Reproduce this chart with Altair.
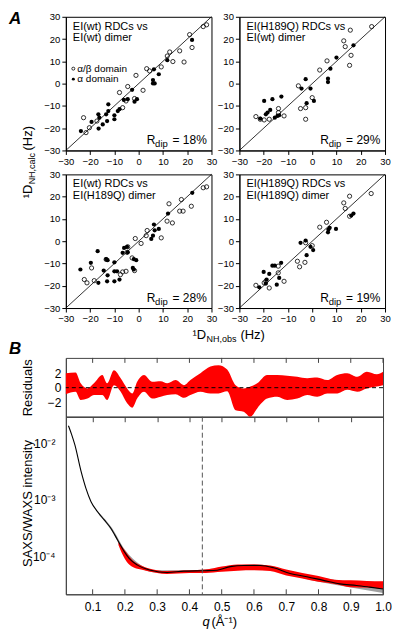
import altair as alt
import pandas as pd

FONT = "Liberation Sans"

# ---------------- Panel A data (1D_NH obs vs calc, Hz) ----------------
tl_ox = [26.6, 28.0, 21.0, 12.8, 16.9, 11.8, 14.1, 18.7, 22.0, 9.3, 3.3, 4.5, -1.1, 1.8, -4.5, -7.9, -1.7, -6.6, -5.2, -22.7, -21.7, -20.3, -17.2]
tl_oy = [25.6, 26.4, 22.0, 14.2, 14.7, 12.4, 9.9, 9.7, 16.2, 7.5, 6.7, 5.7, 3.7, -3.0, -1.3, -4.0, -6.7, -10.8, -7.8, -15.3, -22.0, -19.8, -16.8]
tl_fx = [22.0, 11.8, 6.3, 8.3, 5.9, 5.9, 6.6, -2.7, -4.5, -6.1, -0.7, -1.7, -7.9, -8.6, -10.0, -10.0, -12.5, -12.5, -13.4, -16.6, -16.2, -13.0, -14.8, -19.4, -16.5, -23.8]
tl_fy = [19.6, 10.5, 6.4, 4.2, 1.6, 0.1, 0.1, -2.8, -7.0, -7.3, -7.0, -8.1, -11.5, -12.3, -14.2, -16.0, -9.3, -12.3, -13.8, -13.8, -15.3, -16.8, -18.3, -17.2, -20.2, -21.3]

tr_ox = [24.5, 15.7, 13.0, 13.6, 16.0, 15.4, 6.1, 3.1, -5.7, 0.0, -2.7, -4.8, -2.7, -13.9, -13.9, -11.6, -23.2, -21.4, -19.8, -17.7]
tr_oy = [25.6, 24.0, 19.2, 16.6, 12.7, 8.2, 10.2, 6.1, -1.0, -6.3, -10.8, -11.2, -16.0, -11.2, -13.0, -14.5, -14.8, -16.0, -16.3, -16.0]
tr_fx = [17.0, 10.0, 7.5, 6.5, 6.5, -2.7, -4.4, -0.7, 0.7, -2.3, -19.8, -16.4, -12.7, -17.3, -18.4, -19.1, -21.4, -15.4, -14.3, -13.6]
tr_fy = [17.2, 11.7, 6.7, 2.2, 0.7, 2.0, -2.2, -2.2, -7.8, -8.8, -7.8, -7.0, -5.8, -11.8, -13.0, -13.8, -15.7, -15.3, -14.5, -14.2]

bl_ox = [26.6, 28.0, 21.7, 17.6, 16.9, 18.3, 12.5, 13.9, 11.7, 9.3, 3.1, 3.5, -1.4, 1.0, -4.5, -4.8, -2.7, -1.7, -5.2, -6.6, -7.5, -13.4, -19.4, -18.3, -22.4, -21.3]
bl_oy = [24.0, 24.4, 15.7, 18.7, 13.5, 13.5, 16.8, 8.2, 9.0, 1.5, 2.5, 4.8, 1.2, -1.0, -2.5, -5.0, -7.5, -13.2, -13.5, -13.8, -15.0, -8.2, -12.0, -17.7, -17.2, -18.7]
bl_fx = [22.1, 12.1, 6.3, 8.3, 6.6, 5.9, 5.2, -4.8, -6.0, -4.5, -6.6, -10.0, -2.0, -1.0, -2.4, -2.0, -16.9, -13.4, -12.8, -19.7, -14.4, -10.0, -8.9, -12.8, -13.0, -16.6, -10.0, -7.9, -24.0]
bl_fy = [21.7, 12.4, 7.5, 5.5, 4.9, 2.5, 1.0, -2.5, -3.0, -5.0, -5.2, -9.5, -8.0, -8.5, -12.0, -12.7, -4.5, -8.0, -8.5, -9.7, -13.2, -13.5, -13.5, -15.3, -18.0, -18.7, -18.0, -17.2, -12.7]

br_ox = [24.3, 15.4, 13.0, 13.6, 15.4, 5.9, 3.1, -6.1, -5.2, -3.0, -2.7, 0.0, -14.0, -14.0, -11.6, -23.2, -19.8, -17.7, -19.1]
br_oy = [21.4, 20.2, 17.2, 14.7, 11.2, 8.5, 6.3, -9.0, -11.5, -9.5, -0.7, -2.0, -11.2, -14.2, -18.0, -19.8, -18.7, -21.0, -18.0]
br_fx = [17.0, 16.1, 9.8, 7.2, 6.7, 6.5, -4.8, -2.7, -0.7, 0.4, -2.3, -20.0, -12.8, -16.4, -15.4, -17.7, -18.8, -19.1, -14.6, -13.6, -21.8]
br_fy = [12.4, 11.5, 5.5, 6.0, 5.2, 4.0, -0.7, 0.3, -2.5, -4.0, -6.3, -13.8, -9.7, -11.0, -11.0, -14.7, -17.2, -19.0, -19.5, -16.5, -20.7]

diag = [-30, 30]
a_ticks = [-30, -20, -10, 0, 10, 20, 30]

# ---------------- Panel B data ----------------
q_ticks = [0.1, 0.2, 0.3, 0.4, 0.5, 0.6, 0.7, 0.8, 0.9, 1.0]
res_ticks_y = [-2, 0, 2]
res_zero_line = [0]

# residual ensemble envelope
q_res = [0.017, 0.047, 0.063, 0.084, 0.104, 0.13, 0.145, 0.166, 0.187, 0.207, 0.223, 0.238, 0.259, 0.285, 0.311, 0.331, 0.357, 0.383, 0.403, 0.434, 0.465, 0.49, 0.517, 0.543, 0.568, 0.589, 0.61, 0.641, 0.672, 0.703, 0.734, 0.765, 0.796, 0.827, 0.858, 0.889, 0.92, 0.95, 0.981, 1.0]
res_hi = [2.0, 2.1, 0.6, -0.1, 0.6, 1.75, 0.6, 2.4, 1.3, -0.1, -0.8, 0.8, 1.75, 0.8, 0.9, 0.6, 1.05, 0.35, 1.05, 2.0, 2.9, 3.1, 2.5, 0.35, -0.1, 0.15, 0.6, 1.75, 1.75, 1.65, 1.5, 1.3, 1.4, 1.05, 1.75, 2.0, 1.5, 2.2, 1.85, 2.2]
res_lo = [-0.9, -0.55, -1.7, -1.5, -1.0, -1.0, -1.7, 0.35, -0.55, -2.15, -2.75, -1.5, -0.55, -1.5, -1.25, -1.0, -0.9, -1.4, -1.0, -0.55, -0.8, -0.8, -0.5, -3.1, -3.3, -4.0, -2.85, -1.5, -1.25, -1.7, -1.5, -1.0, -1.25, -0.8, -0.8, -0.3, -0.55, -0.1, 0.15, 0.35]

# experimental SAXS/WAXS curve
q_exp = [0.025, 0.035, 0.045, 0.064, 0.079, 0.095, 0.115, 0.136, 0.157, 0.177, 0.198, 0.213, 0.239, 0.28, 0.331, 0.383, 0.445, 0.486, 0.527, 0.568, 0.62, 0.661, 0.712, 0.764, 0.815, 0.866, 0.918, 0.959, 1.0]
i_exp = [2.09e-2, 1.45e-2, 9.5e-3, 3.24e-3, 1.62e-3, 9.3e-4, 6.2e-4, 4.4e-4, 3.1e-4, 1.95e-4, 1.2e-4, 9.1e-5, 6.9e-5, 5.6e-5, 5.1e-5, 5.4e-5, 5.5e-5, 5.6e-5, 6.5e-5, 6.8e-5, 6.8e-5, 6.2e-5, 4.9e-5, 4.3e-5, 3.7e-5, 3.2e-5, 3.0e-5, 2.8e-5, 2.6e-5]

# experimental error envelope
q_err = [0.12, 0.16, 0.20, 0.25, 0.30, 0.40, 0.50, 0.60, 0.70, 0.80, 0.90, 1.00]
err_hi = [5.9e-4, 3.16e-4, 1.29e-4, 6.9e-5, 5.6e-5, 5.6e-5, 6.2e-5, 7.2e-5, 5.5e-5, 4.2e-5, 3.5e-5, 3.0e-5]
err_lo = [5.4e-4, 2.75e-4, 1.07e-4, 6.0e-5, 5.1e-5, 5.1e-5, 5.6e-5, 6.4e-5, 4.8e-5, 3.5e-5, 2.75e-5, 2.2e-5]

# ensemble of calculated curves (envelope)
q_fit = [0.18, 0.20, 0.22, 0.25, 0.30, 0.33, 0.40, 0.45, 0.50, 0.55, 0.60, 0.65, 0.70, 0.75, 0.80, 0.85, 0.90, 0.95, 1.00]
fit_hi = [1.78e-4, 1.26e-4, 8.9e-5, 6.8e-5, 5.6e-5, 5.4e-5, 5.6e-5, 5.75e-5, 6.5e-5, 7.1e-5, 7.1e-5, 6.8e-5, 5.75e-5, 5.0e-5, 4.4e-5, 3.8e-5, 3.7e-5, 3.6e-5, 3.55e-5]
fit_lo = [1.58e-4, 8.9e-5, 6.6e-5, 5.75e-5, 5.0e-5, 4.8e-5, 5.0e-5, 5.0e-5, 5.25e-5, 5.5e-5, 5.6e-5, 5.4e-5, 4.5e-5, 4.0e-5, 3.5e-5, 3.2e-5, 2.8e-5, 2.75e-5, 2.6e-5]

q_cut = [0.44]

ONE = pd.DataFrame({"k": [0]})


def txt(s, x, y, size=11, align="left", baseline="alphabetic", angle=None, **kw):
    mk = dict(text=s, align=align, baseline=baseline, fontSize=size, font=FONT, color="black")
    if angle is not None:
        mk["angle"] = angle
    mk.update(kw)
    return alt.Chart(ONE).mark_text(**mk).encode(x=alt.value(x), y=alt.value(y))


def a_axis():
    return alt.Axis(values=a_ticks, title=None, grid=False, tickSize=4, labelFontSize=9.5,
                    labelPadding=2, labelFont=FONT, labelColor="black", tickColor="black",
                    domainColor="black", labelFlush=False, labelOverlap=False)


def panel(ox, oy, fx, fy, t1, t2, rdip, extra=()):
    sx = alt.Scale(domain=[-30, 30], nice=False)
    sy = alt.Scale(domain=[-30, 30], nice=False)
    line = alt.Chart(pd.DataFrame({"x": diag, "y": diag})).mark_line(
        color="black", strokeWidth=0.8).encode(
        x=alt.X("x:Q", scale=sx, axis=a_axis()),
        y=alt.Y("y:Q", scale=sy, axis=a_axis()))
    opn = alt.Chart(pd.DataFrame({"x": ox, "y": oy})).mark_point(
        shape="circle", filled=False, color="black", size=18, strokeWidth=0.8, opacity=1).encode(
        x=alt.X("x:Q", axis=a_axis()), y=alt.Y("y:Q", axis=a_axis()))
    fil = alt.Chart(pd.DataFrame({"x": fx, "y": fy})).mark_circle(
        color="black", size=18, opacity=1).encode(
        x=alt.X("x:Q", axis=a_axis()), y=alt.Y("y:Q", axis=a_axis()))
    layers = [line, opn, fil,
              txt(t1, 7, 13, 11), txt(t2, 7, 24.5, 11),
              txt("R", 81, 128, 12), txt("dip", 89.5, 131, 9.5), txt("= %d%%" % rdip, 107, 128, 12)]
    layers += list(extra)
    return alt.layer(*layers).properties(width=146, height=134)


tl_extra = [
    txt("A", -57, -6, 17, baseline="top", fontWeight="bold", fontStyle="italic"),
    alt.Chart(ONE).mark_point(shape="circle", filled=False, color="black", size=9, strokeWidth=0.8, opacity=1).encode(
        x=alt.value(7.5), y=alt.value(52)),
    txt("α/β domain", 11.5, 52, 10, baseline="middle"),
    alt.Chart(ONE).mark_circle(color="black", size=9, opacity=1).encode(x=alt.value(7.5), y=alt.value(62.5)),
    txt("α domain", 11.5, 62.5, 10, baseline="middle"),
    txt("¹D", -34, 182, 13, angle=270),
    txt("NH,calc", -31, 168, 9, angle=270),
    txt("(Hz)", -34, 134, 13, angle=270),
]
bl_extra = [
    txt("¹D", 127, 165, 13),
    txt("NH,obs", 141, 168, 9),
    txt("(Hz)", 175, 165, 13),
]

tl = panel(tl_ox, tl_oy, tl_fx, tl_fy, "EI(wt) RDCs vs", "EI(wt) dimer", 18, tl_extra)
tr = panel(tr_ox, tr_oy, tr_fx, tr_fy, "EI(H189Q) RDCs vs", "EI(wt) dimer", 29)
bl = panel(bl_ox, bl_oy, bl_fx, bl_fy, "EI(wt) RDCs vs", "EI(H189Q) dimer", 28, bl_extra)
br = panel(br_ox, br_oy, br_fx, br_fy, "EI(H189Q) RDCs vs", "EI(H189Q) dimer", 19)

# ---------------- Panel B ----------------
BW, RH, SH = 318, 59, 178
qscale = alt.Scale(domain=[0.017, 1.0], nice=False)
rscale = alt.Scale(domain=[-4.0, 4.1], nice=False)
iscale = alt.Scale(type="log", domain=[2.09e-5, 3.02e-2], nice=False)
GRAYB = "#444444"

res_xaxis = alt.Axis(values=q_ticks, labels=False, title=None, grid=False,
                     tickSize=5, tickColor=GRAYB, domainColor=GRAYB)
res_yaxis = alt.Axis(values=res_ticks_y, title=None, grid=False, tickSize=0,
                     labelPadding=5, labelFontSize=12, labelFont=FONT,
                     labelColor="black", domainColor=GRAYB, labelOverlap=False)
res_band = alt.Chart(pd.DataFrame({"q": q_res, "lo": res_lo, "hi": res_hi})).mark_area(
    color="#ff0000", interpolate="monotone", opacity=1).encode(
    x=alt.X("q:Q", scale=qscale, axis=res_xaxis),
    y=alt.Y("lo:Q", scale=rscale, axis=res_yaxis),
    y2="hi:Q")
res_zero = alt.Chart(pd.DataFrame({"lo": res_zero_line})).mark_rule(
    color="black", strokeDash=[4, 3], strokeWidth=1).encode(y=alt.Y("lo:Q", axis=res_yaxis))
res_ticks = alt.Chart(pd.DataFrame({"q": q_ticks})).mark_rule(color=GRAYB, strokeWidth=1).encode(
    x=alt.X("q:Q", axis=res_xaxis), y=alt.value(0), y2=alt.value(5))
res = alt.layer(
    res_band, res_zero, res_ticks,
    txt("B", -57, -17, 17, baseline="top", fontWeight="bold", fontStyle="italic"),
    txt("Residuals", -34, 30, 13, align="center", angle=270),
).properties(width=BW, height=RH, view=alt.ViewBackground(stroke=GRAYB))

q_axis = alt.Axis(values=q_ticks, format=".1f", title=None, grid=False,
                  tickSize=0, labelPadding=7, labelFontSize=12, labelFont=FONT,
                  labelColor="black", domainColor=GRAYB, labelFlush=False, labelOverlap=False)
i_axis = alt.Axis(values=[1e-4, 1e-3, 1e-2], title=None, grid=False, tickSize=0,
                  labelPadding=11, labelFontSize=12, labelFont=FONT,
                  labelColor="black", domainColor=GRAYB, labelOverlap=False,
                  labelExpr="datum.value > 0.005 ? '10⁻²' : (datum.value > 0.0005 ? '10⁻³' : '10⁻⁴')")
err_band = alt.Chart(pd.DataFrame({"q": q_err, "lo": err_lo, "hi": err_hi})).mark_area(
    color="#a0a0a0", interpolate="monotone", opacity=1).encode(
    x=alt.X("q:Q", scale=qscale, axis=q_axis),
    y=alt.Y("lo:Q", scale=iscale, axis=i_axis),
    y2="hi:Q")
fit_band = alt.Chart(pd.DataFrame({"q": q_fit, "lo": fit_lo, "hi": fit_hi})).mark_area(
    color="#ff0000", interpolate="monotone", opacity=1).encode(
    x=alt.X("q:Q", axis=q_axis), y=alt.Y("lo:Q", axis=i_axis), y2="hi:Q")
exp_line = alt.Chart(pd.DataFrame({"q": q_exp, "i": i_exp})).mark_line(
    color="black", strokeWidth=1.1, interpolate="monotone").encode(
    x=alt.X("q:Q", axis=q_axis), y=alt.Y("i:Q", axis=i_axis))
cut = alt.Chart(pd.DataFrame({"q": q_cut})).mark_rule(
    color="#555555", strokeDash=[5, 3], strokeWidth=1).encode(x=alt.X("q:Q", axis=q_axis))
saxs_ticks = alt.Chart(pd.DataFrame({"q": q_ticks})).mark_rule(color=GRAYB, strokeWidth=1).encode(
    x=alt.X("q:Q", axis=q_axis), y=alt.value(SH - 5), y2=alt.value(SH))
saxs = alt.layer(
    err_band, fit_band, exp_line, cut, saxs_ticks,
    txt("SAXS/WAXS intensity", -34, 87, 13, align="center", angle=270),
    txt("q", 137, 210, 13, fontStyle="italic"),
    txt("(Å⁻¹)", 146, 210, 13),
).properties(width=BW, height=SH, view=alt.ViewBackground(stroke=GRAYB))

grid_a = alt.concat(tl, tr, bl, br, columns=2, spacing={"row": 24, "column": 28}, bounds="flush")
part_b = alt.vconcat(res, saxs, spacing=0, bounds="flush")

chart = alt.vconcat(grid_a, part_b, spacing=-6).properties(
    padding=0, background="white"
).configure_view(stroke="black", strokeWidth=1).configure_axis(labelOverlap=False, labelFlush=False)

chart.save("out.html", embed_options={"renderer": "svg", "actions": False})
